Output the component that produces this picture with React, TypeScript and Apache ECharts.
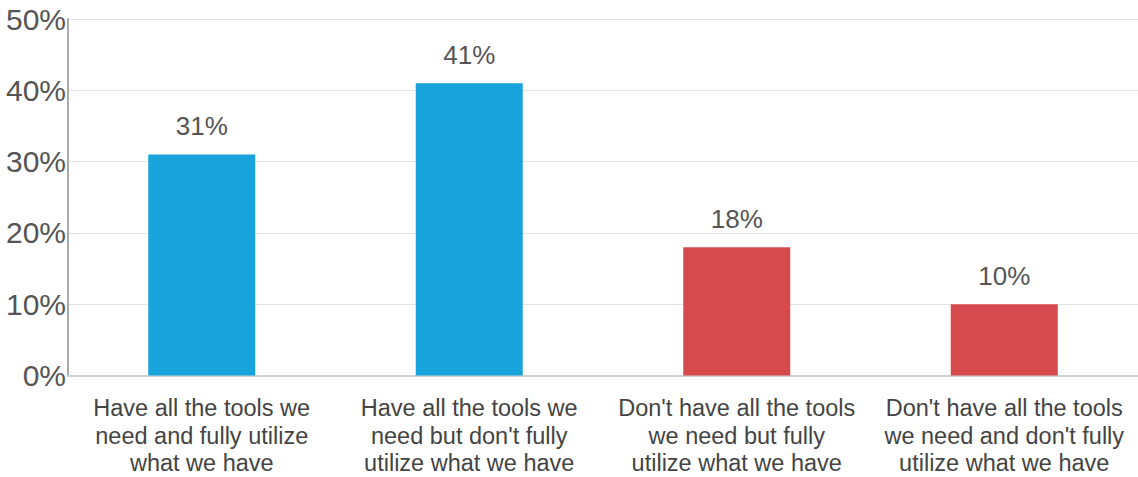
import React, { useEffect, useRef } from "react";
import * as echarts from "echarts";

const categories = [
  "Have all the tools we\nneed and fully utilize\nwhat we have",
  "Have all the tools we\nneed but don't fully\nutilize what we have",
  "Don't have all the tools\nwe need but fully\nutilize what we have",
  "Don't have all the tools\nwe need and don't fully\nutilize what we have",
];
const values = [31, 41, 18, 10];
const barColors = ["#19a3dc", "#19a3dc", "#d64a4e", "#d64a4e"];
const yTicks = { min: 0, max: 50, interval: 10 };

export default function App() {
  const ref = useRef<HTMLDivElement>(null);
  useEffect(() => {
    const chart = echarts.init(ref.current!, null, { renderer: "svg" });
    chart.setOption({
      animation: false,
      textStyle: { fontFamily: "Liberation Sans, Arial, sans-serif" },
      grid: { left: 68, right: 0, top: 19, bottom: 99, containLabel: false },
      xAxis: {
        type: "category",
        data: categories,
        axisLine: { show: true, lineStyle: { color: "#d0d0d0", width: 2 } },
        axisTick: { show: false },
        axisLabel: {
          interval: 0,
          color: "#444",
          fontSize: 23.5,
          lineHeight: 27.5,
          margin: 19,
          align: "center",
        },
      },
      yAxis: {
        type: "value",
        min: yTicks.min,
        max: yTicks.max,
        interval: yTicks.interval,
        axisLine: { show: true, lineStyle: { color: "#aaaaaa", width: 2 } },
        axisTick: { show: false },
        axisLabel: {
          color: "#555",
          fontSize: 30,
          margin: 2,
          formatter: (v: number) => `${v}%`,
        },
        splitLine: { show: true, lineStyle: { color: "#e3e3e3", width: 1 } },
      },
      series: [
        {
          type: "bar",
          data: values.map((v, i) => ({ value: v, itemStyle: { color: barColors[i] } })),
          barWidth: "40%",
          label: {
            show: true,
            position: "top",
            distance: 15,
            color: "#555",
            fontSize: 26,
            formatter: (p: any) => `${p.value}%`,
          },
        },
      ],
    });
    return () => chart.dispose();
  }, []);
  return <div ref={ref} style={{ width: 1138, height: 477, position: "absolute", left: 0, top: 0 }} />;
}
